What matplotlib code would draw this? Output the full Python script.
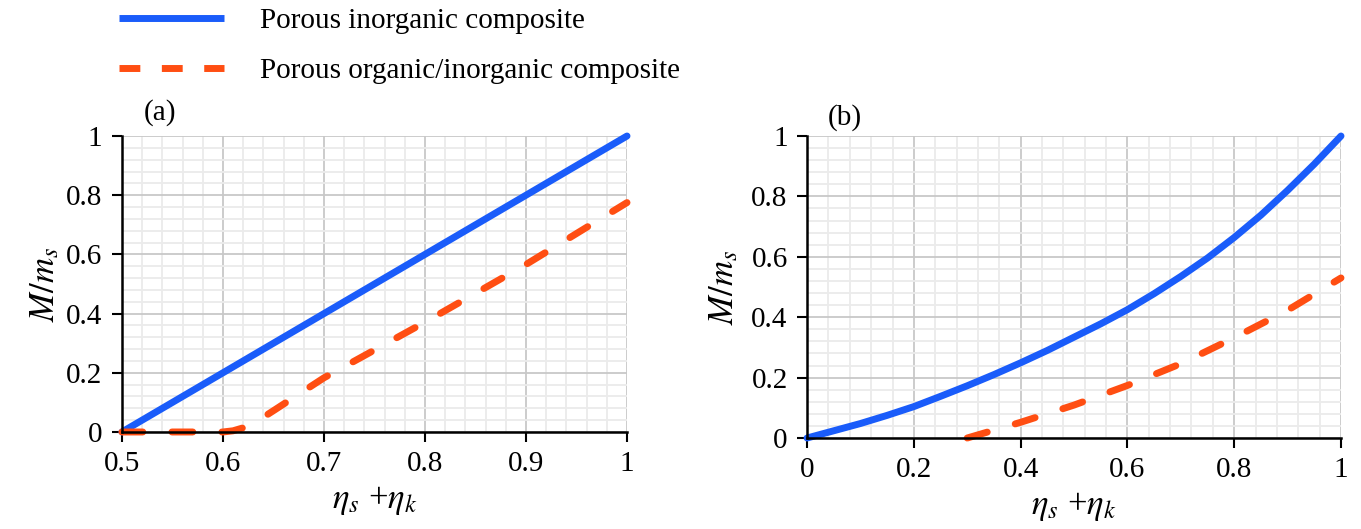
import matplotlib.pyplot as plt
from matplotlib.lines import Line2D
from matplotlib.ticker import MultipleLocator, FormatStrFormatter

plt.rcParams['font.family'] = ['Liberation Serif', 'DejaVu Serif']
plt.rcParams['mathtext.fontset'] = 'stix'

# panel (a)
xa = [0.5, 0.6, 0.7, 0.8, 0.9, 1.0]
blue_a = [0.0, 0.2, 0.4, 0.6, 0.8, 1.0]
xa_org = [0.5, 0.55, 0.6, 0.61, 0.62, 0.63, 0.64, 0.65, 0.7, 0.8, 0.9, 1.0]
org_a = [0.0, 0.0, 0.0, 0.004, 0.014, 0.03, 0.05, 0.072, 0.183, 0.371, 0.566, 0.775]

# panel (b)
xb = [0.0, 0.05, 0.1, 0.15, 0.2, 0.25, 0.3, 0.35, 0.4, 0.45, 0.5,
      0.55, 0.6, 0.65, 0.7, 0.75, 0.8, 0.85, 0.9, 0.95, 1.0]
blue_b = [0.0, 0.024, 0.048, 0.075, 0.104, 0.138, 0.173, 0.21, 0.249, 0.29, 0.334,
          0.378, 0.425, 0.478, 0.535, 0.596, 0.664, 0.738, 0.82, 0.907, 1.0]
xb_org = [0.3, 0.4, 0.5, 0.6, 0.7, 0.8, 0.9, 1.0]
org_b = [0.0, 0.052, 0.109, 0.174, 0.246, 0.332, 0.423, 0.53]

labels = ['Porous inorganic composite', 'Porous organic/inorganic composite']
BLUE = '#1a5cfa'
ORANGE = '#ff4e12'
FS = 21

fig = plt.figure(figsize=(13.61, 5.29), dpi=100)
ax1 = fig.add_axes([0.0896, 0.1834, 0.3711, 0.5595])
ax2 = fig.add_axes([0.5930, 0.1720, 0.3923, 0.5709])


def style(ax, xmin, xmax, xmaj, xmin_step):
    ax.set_xlim(xmin, xmax)
    ax.set_ylim(0, 1)
    ax.xaxis.set_major_locator(MultipleLocator(xmaj))
    ax.xaxis.set_minor_locator(MultipleLocator(xmin_step))
    ax.yaxis.set_major_locator(MultipleLocator(0.2))
    ax.yaxis.set_minor_locator(MultipleLocator(0.04))
    ax.xaxis.set_major_formatter(FormatStrFormatter('%g'))
    ax.yaxis.set_major_formatter(FormatStrFormatter('%g'))
    ax.grid(which='major', color='#c8c8c8', lw=1.3)
    ax.grid(which='minor', color='#ebebeb', lw=1.3)
    ax.set_axisbelow(True)
    for s in ['top', 'right']:
        ax.spines[s].set_visible(False)
    for s in ['left', 'bottom']:
        ax.spines[s].set_linewidth(1.8)
    ax.tick_params(which='major', direction='out', length=7, width=1.5,
                   labelsize=FS, pad=7)
    ax.tick_params(which='minor', length=0)
    ax.set_xlabel(r'$\eta_s$ +$\eta_k$', fontsize=FS + 4, labelpad=5)


style(ax1, 0.5, 1.0, 0.1, 0.02)
style(ax2, 0.0, 1.0, 0.2, 0.04)
ax1.set_ylabel(r'$M/m_s$', fontsize=FS + 4, labelpad=3)
ax2.set_ylabel(r'$M/m_s$', fontsize=FS + 4, labelpad=7)

ax1.plot(xa, blue_a, color=BLUE, lw=5, solid_capstyle='round', clip_on=False)
ax1.plot(xa_org, org_a, color=ORANGE, lw=5, dashes=(3.0, 4.2),
         dash_capstyle='round', clip_on=False)
ax2.plot(xb, blue_b, color=BLUE, lw=5, solid_capstyle='round', clip_on=False)
ax2.plot(xb_org, org_b, color=ORANGE, lw=5, dashes=(3.0, 4.2),
         dash_capstyle='round', clip_on=False)

ax1.text(0.075, 1.08, '(a)', transform=ax1.transAxes, fontsize=FS, va='center', ha='center')
ax2.text(0.071, 1.06, '(b)', transform=ax2.transAxes, fontsize=FS, va='center', ha='center')

# legend handles (dash pattern tuned so three dashes show, like the original)
h1 = Line2D([], [], color=BLUE, lw=5, solid_capstyle='butt')
h2 = Line2D([], [], color=ORANGE, lw=5, dashes=(3.0, 3.1), dash_capstyle='butt')
fig.legend([h1, h2], labels, loc='upper left', bbox_to_anchor=(0.068, 1.035),
           frameon=False, fontsize=FS, handlelength=3.6, handletextpad=1.25,
           labelspacing=0.8)

fig.savefig('out.png', dpi=100)
